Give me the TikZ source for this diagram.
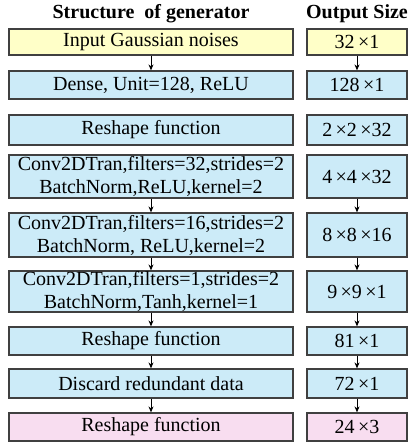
\documentclass[tikz,border=0pt]{standalone}
\usepackage{fontspec}
\setmainfont{Liberation Serif}
\usetikzlibrary{arrows.meta}
\definecolor{cyel}{HTML}{FFFFC8}
\definecolor{cblu}{HTML}{CCEBF8}
\definecolor{cpnk}{HTML}{F8DDF0}
\definecolor{cbrd}{HTML}{404040}
\begin{document}
\begin{tikzpicture}[x=1pt,y=-1pt,
  lbox/.style={draw=cbrd,line width=1.2pt,minimum width=284pt,inner sep=0pt,align=center,font=\fontsize{20}{23}\selectfont},
  rbox/.style={draw=cbrd,line width=1.2pt,minimum width=100pt,inner sep=0pt,align=center,font=\fontsize{20}{23}\selectfont},
  hdr/.style={font=\fontsize{20}{23}\selectfont\bfseries},
  arr/.style={-{Stealth[length=6pt,width=5pt]},line width=0.9pt,black}]
\useasboundingbox (0,0) rectangle (411,443);
\node[hdr] (h1) at (151,14) {Structure \ of generator};
\node[hdr] (h2) at (357,14) {Output Size};
% left column
\node[lbox,fill=cyel,minimum height=26pt] (l1) at (151,42) {Input Gaussian noises};
\node[lbox,fill=cblu,minimum height=28pt] (l2) at (151,85) {Dense, Unit=128, ReLU};
\node[lbox,fill=cblu,minimum height=30pt] (l3) at (151,130) {Reshape function};
\node[lbox,fill=cblu,minimum height=43pt] (l4) at (151,176.5) {Conv2DTran,filters=32,strides=2\\BatchNorm,ReLU,kernel=2};
\node[lbox,fill=cblu,minimum height=44pt] (l5) at (151,235) {Conv2DTran,filters=16,strides=2\\BatchNorm, ReLU,kernel=2};
\node[lbox,fill=cblu,minimum height=41pt] (l6) at (151,291.5) {Conv2DTran,filters=1,strides=2\\BatchNorm,Tanh,kernel=1};
\node[lbox,fill=cblu,minimum height=28pt] (l7) at (151,341) {Reshape function};
\node[lbox,fill=cblu,minimum height=29pt] (l8) at (151,383.5) {Discard redundant data};
\node[lbox,fill=cpnk,minimum height=28pt] (l9) at (151,427) {Reshape function};
% right column
\node[rbox,fill=cyel,minimum height=26pt] (r1) at (357,42) {32\,×1};
\node[rbox,fill=cblu,minimum height=28pt] (r2) at (357,85) {128\,×1};
\node[rbox,fill=cblu,minimum height=30pt] (r3) at (357,130) {2\,×2\,×32};
\node[rbox,fill=cblu,minimum height=43pt] (r4) at (357,176.5) {4\,×4\,×32};
\node[rbox,fill=cblu,minimum height=44pt] (r5) at (357,235) {8\,×8\,×16};
\node[rbox,fill=cblu,minimum height=41pt] (r6) at (357,291.5) {9\,×9\,×1};
\node[rbox,fill=cblu,minimum height=28pt] (r7) at (357,341) {81\,×1};
\node[rbox,fill=cblu,minimum height=29pt] (r8) at (357,383.5) {72\,×1};
\node[rbox,fill=cpnk,minimum height=28pt] (r9) at (357,427) {24\,×3};
% arrows
\foreach \a/\b in {l1/l2,l4/l5,l5/l6,l6/l7,l7/l8,l8/l9,r1/r2,r4/r5,r5/r6,r6/r7,r7/r8,r8/r9}
  \draw[arr] (\a.south) -- (\b.north);
\end{tikzpicture}
\end{document}
